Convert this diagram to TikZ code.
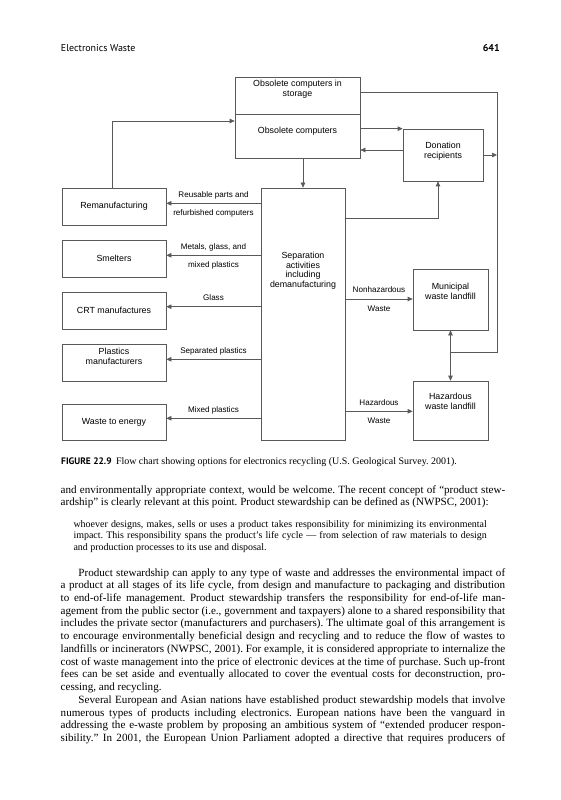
\documentclass[tikz,border=0pt]{standalone}
\usepackage{fontspec}
\setmainfont{Liberation Serif}
\newfontfamily\diagfont{Liberation Sans}
\newfontfamily\headfont{PT Sans}
\usetikzlibrary{arrows.meta}
\definecolor{lc}{gray}{0.35}
\newcommand{\boxfont}{\diagfont\fontsize{8}{9}\selectfont}
\newcommand{\labfont}{\diagfont\fontsize{7.3}{8.5}\selectfont}
\newcommand{\bt}[2]{\raisebox{#1}[\height][\depth]{\begin{tabular}{@{}c@{}}#2\end{tabular}}}
\newcommand{\pline}[1]{\hbox to\hsize{#1}}
\newcommand{\plast}[1]{\hbox to\hsize{#1\hfil}}
\newcommand{\pind}[1]{\hbox to\hsize{\hskip16bp #1}}
\frenchspacing
\begin{document}
\begin{tikzpicture}[x=0.9bp,y=-0.9bp,
 box/.style 2 args={draw=lc, line width=0.6pt, inner sep=0pt, minimum width=#1*0.9bp, minimum height=#2*0.9bp, font=\boxfont},
 arr/.style={draw=lc, line width=0.6pt, -{Triangle[length=4.5bp,width=4bp]}},
 conn/.style={draw=lc, line width=0.6pt},
 labup/.style={font=\labfont, anchor=base, yshift=5.5bp, inner sep=0pt},
 labdn/.style={font=\labfont, anchor=base, yshift=-11bp, inner sep=0pt},
 txt/.style={inner sep=0pt, anchor=base west}]
\fill[white] (0,0) rectangle (560,800);
\useasboundingbox (0,0) rectangle (560,800);

% header
\node[txt, font=\headfont\fontsize{9}{11}\selectfont] (hd) at (60.7,52) {Electronics Waste};
\node[inner sep=0pt, anchor=base east, font=\headfont\bfseries\fontsize{9}{11}\selectfont] (pg) at (500,52) {641};

% boxes
\node[box={125}{37}] (stor) at (297.5,95.5) {\bt{5bp}{Obsolete computers in\\storage}};
\node[box={125}{44}] (obs) at (297.5,136) {\bt{3.6bp}{Obsolete computers}};
\node[box={80}{52}] (don) at (443,155) {\bt{3bp}{Donation\\recipients}};
\node[box={104}{37}] (reman) at (114,206.5) {Remanufacturing};
\node[box={104}{37}] (smelt) at (114,258.5) {Smelters};
\node[box={104}{37}] (crt) at (114,310.5) {CRT manufactures};
\node[box={104}{37}] (plast) at (114,362.5) {\bt{4.5bp}{Plastics\\manufacturers}};
\node[box={104}{36}] (wte) at (114,422) {Waste to energy};
\node[box={84}{252}] (sep) at (303,314) {\bt{38.7bp}{Separation\\activities\\including\\demanufacturing}};
\node[box={75}{61}] (muni) at (450.5,299.5) {\bt{6bp}{Municipal\\waste landfill}};
\node[box={75}{59}] (haz) at (450.5,410.5) {\bt{6.8bp}{Hazardous\\waste landfill}};

% connectors
\coordinate (r1) at (497,92);
\coordinate (r2) at (497,352);
\coordinate (jn) at (450.5,352);
\draw[conn] (stor.east |- r1) -- (r1) -- (r2) -- (jn);
\draw[arr] (jn) -- (muni.south);
\draw[arr] (jn) -- (haz.north);
\draw[arr] (don.east) -- (don.east -| r1);
\draw[arr] (obs.east |- don.north west) -- (don.north west);
\draw[arr] ([yshift=4.5bp]don.west) -- ([yshift=4.5bp]don.west -| obs.east);
\draw[arr] (obs.south -| sep.north) -- (sep.north);
\coordinate (k) at (438,218);
\draw[arr] (sep.east |- k) -| (don.south -| k);
\coordinate (m) at (112,121);
\draw[arr] (reman.north -| m) |- (obs.west |- m);

\draw[arr] (sep.west |- 0,203.3) -- (reman.east |- 0,203.3)
  node[labup,midway]{Reusable parts and} node[labdn,midway]{refurbished computers};
\draw[arr] (sep.west |- 0,255.3) -- (smelt.east |- 0,255.3)
  node[labup,midway]{Metals, glass, and} node[labdn,midway]{mixed plastics};
\draw[arr] (sep.west |- 0,306.7) -- (crt.east |- 0,306.7)
  node[labup,midway]{Glass};
\draw[arr] (sep.west |- 0,359.3) -- (plast.east |- 0,359.3)
  node[labup,midway]{Separated plastics};
\draw[arr] (sep.west |- 0,418.3) -- (wte.east |- 0,418.3)
  node[labup,midway]{Mixed plastics};
\draw[arr] (sep.east |- 0,299) -- (muni.west |- 0,299)
  node[labup,midway]{Nonhazardous} node[labdn,midway]{Waste};
\draw[arr] (sep.east |- 0,411.3) -- (haz.west |- 0,411.3)
  node[labup,midway]{Hazardous} node[labdn,midway]{Waste};

% caption
\node[txt] (cap) at (61,464) {{\headfont\bfseries\fontsize{8.5}{10}\selectfont FIGURE 22.9}\hspace{4bp}{\fontsize{9}{10}\selectfont Flow chart showing options for electronics recycling (U.S. Geological Survey. 2001).}};

% body
\node[txt] (b1) at (60.5,493) {\vtop{\hsize=400bp\fontsize{10}{11.5}\selectfont\frenchspacing
\pline{and environmentally appropriate context, would be welcome. The recent concept of “product stew-}
\plast{ardship” is clearly relevant at this point. Product stewardship can be defined as (NWPSC, 2001):}}};

\node[txt] (qt) at (73.3,527) {\vtop{\hsize=372bp\fontsize{9}{10.5}\selectfont\frenchspacing
\pline{whoever designs, makes, sells or uses a product takes responsibility for minimizing its environmental}
\pline{impact. This responsibility spans the product’s life cycle — from selection of raw materials to design}
\plast{and production processes to its use and disposal.}}};

\node[txt] (b2) at (60.5,576) {\vtop{\hsize=400bp\fontsize{10}{11.5}\selectfont\frenchspacing
\pind{Product stewardship can apply to any type of waste and addresses the environmental impact of}
\pline{a product at all stages of its life cycle, from design and manufacture to packaging and distribution}
\pline{to end-of-life management. Product stewardship transfers the responsibility for end-of-life man-}
\pline{agement from the public sector (i.e., government and taxpayers) alone to a shared responsibility that}
\pline{includes the private sector (manufacturers and purchasers). The ultimate goal of this arrangement is}
\pline{to encourage environmentally beneficial design and recycling and to reduce the flow of wastes to}
\pline{landfills or incinerators (NWPSC, 2001). For example, it is considered appropriate to internalize the}
\pline{cost of waste management into the price of electronic devices at the time of purchase. Such up-front}
\pline{fees can be set aside and eventually allocated to cover the eventual costs for deconstruction, pro-}
\plast{cessing, and recycling.}
\pind{Several European and Asian nations have established product stewardship models that involve}
\pline{numerous types of products including electronics. European nations have been the vanguard in}
\pline{addressing the e-waste problem by proposing an ambitious system of “extended producer respon-}
\pline{sibility.” In 2001, the European Union Parliament adopted a directive that requires producers of}}};
\end{tikzpicture}
\end{document}
